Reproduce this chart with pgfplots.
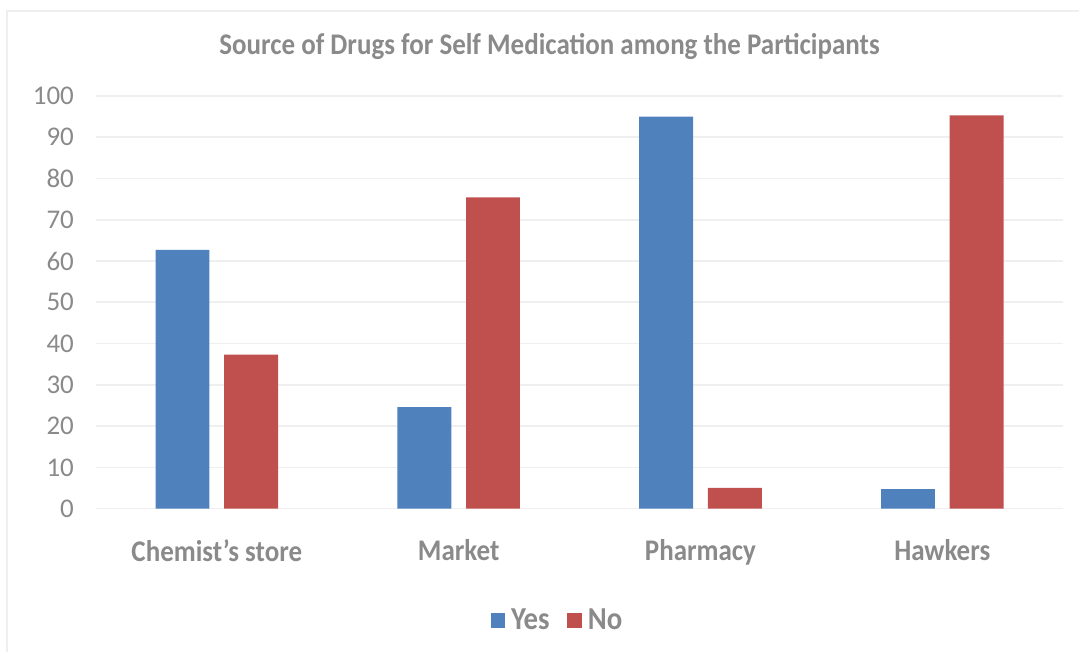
\documentclass[border=0pt]{standalone}
\usepackage{fontspec}
\setmainfont{Carlito}[BoldFeatures={FakeStretch=0.9}]
\usepackage{pgfplots}
\pgfplotsset{compat=1.18}

\definecolor{yescol}{HTML}{4F81BD}
\definecolor{nocol}{HTML}{C0504D}
\definecolor{txtgray}{HTML}{8A8A8A}
\definecolor{gridgray}{HTML}{EFEFEF}

\begin{document}
\begin{tikzpicture}
% page frame: 1080x656 px at 0.5pt per px, axis origin at px (96,509)
\path (-48pt,-73.5pt) rectangle (492pt,254.5pt);
\draw[gridgray, line width=0.8pt] (-44.5pt,-71.5pt) -- (-44.5pt,249pt) -- (492pt,249pt);

\begin{axis}[
  at={(0,0)}, anchor=south west,
  scale only axis,
  width=484pt, height=206.5pt,
  xmin=-0.5, xmax=3.5,
  ymin=0, ymax=100,
  ytick={0,10,...,100},
  xtick={0,1,2,3},
  xticklabels={Chemist’s store, Market, Pharmacy, Hawkers},
  axis line style={draw=none},
  major tick length=0pt,
  ymajorgrids,
  grid style={gridgray, line width=0.8pt},
  /pgf/number format/assume math mode=true,
  yticklabel style={font=\fontsize{13.5}{16}\selectfont, text=txtgray, xshift=-7.5pt},
  xticklabel style={font=\fontsize{15}{18}\selectfont\bfseries, text=txtgray, yshift=-12pt},
  ybar=0pt,
  bar width=0.223,
  clip=false,
]
\addplot[fill=yescol, draw=none, bar shift=-0.142] coordinates {(0,62.7) (1,24.6) (2,95.0) (3,4.7)};
\addplot[fill=nocol, draw=none, bar shift=0.142] coordinates {(0,37.3) (1,75.4) (2,5.0) (3,95.3)};
\end{axis}

\node[text=txtgray, font=\fontsize{15}{18}\selectfont\bfseries] at (227pt,231pt) {Source of Drugs for Self Medication among the Participants};

% legend
\fill[yescol] (197.5pt,-59.5pt) rectangle (204.5pt,-52pt);
\node[text=txtgray, font=\fontsize{16}{19}\selectfont\bfseries, anchor=west, inner sep=0pt] at (207.5pt,-55.5pt) {Yes};
\fill[nocol] (235.5pt,-59.5pt) rectangle (243pt,-52pt);
\node[text=txtgray, font=\fontsize{16}{19}\selectfont\bfseries, anchor=west, inner sep=0pt] at (246pt,-55.5pt) {No};
\end{tikzpicture}
\end{document}
